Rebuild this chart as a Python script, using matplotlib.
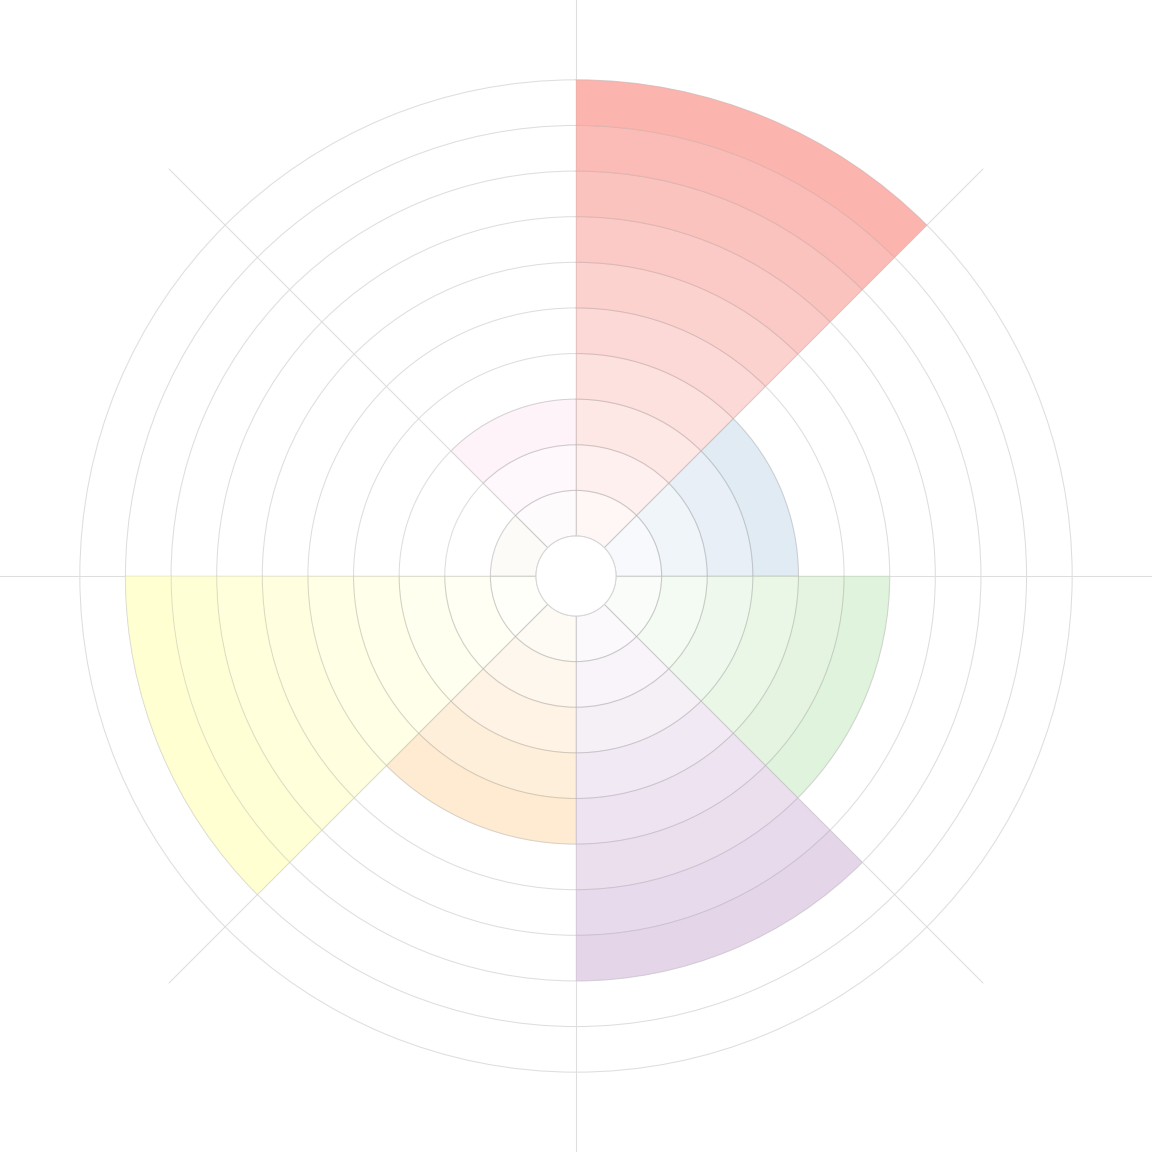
import numpy as np
import matplotlib
matplotlib.use("Agg")
import matplotlib.pyplot as plt
from matplotlib.colors import to_rgba

categories = ["A", "B", "C", "D", "E", "F", "G", "H"]
values = [10, 4, 6, 8, 5, 9, 1, 3]
colors = ["#fbb4ae", "#b3cde3", "#ccebc5", "#decbe4", "#fed9a6", "#ffffcc", "#e5d8bd", "#fddaec"]
n_rings = 10

plt.rcParams["axes.edgecolor"] = "none"
plt.rcParams["axes.linewidth"] = 0
plt.rcParams["xtick.major.size"] = 0
plt.rcParams["ytick.major.size"] = 0

fig = plt.figure(figsize=(11.52, 11.52), dpi=100)
ax = fig.add_axes([0, 0, 1, 1], projection="polar")
ax.set_theta_zero_location("N")
ax.set_theta_direction(-1)
ax.set_rorigin(-0.877)
ax.set_ylim(0, 11.75)

n = len(categories)
width = 2 * np.pi / n
thetas = np.arange(n) * width + width / 2

ax.set_axisbelow(True)
ax.set_rticks(np.arange(0, n_rings + 1))
ax.set_thetagrids(np.degrees(np.arange(n) * width))
ax.set_yticklabels([])
ax.set_xticklabels([])
ax.grid(True, color="#dedede", linewidth=0.75)
for s in ax.spines.values():
    s.set_visible(False)
    s.set_edgecolor("none")

# inner (hole) grid circle
circ = np.linspace(0, 2 * np.pi, 721)
ax.plot(circ, np.zeros_like(circ), color="#d8d8d8", linewidth=0.75,
        clip_on=False, zorder=3)

for i, (th, v, c) in enumerate(zip(thetas, values, colors)):
    for j in range(v):
        alpha = (j + 1) / n_rings
        ax.bar(th, 1, width=width, bottom=j,
               facecolor=to_rgba(c, alpha),
               edgecolor=(0.5, 0.5, 0.5, 0.12), linewidth=0.7, zorder=2)

fig.savefig("out.png", dpi=100)
